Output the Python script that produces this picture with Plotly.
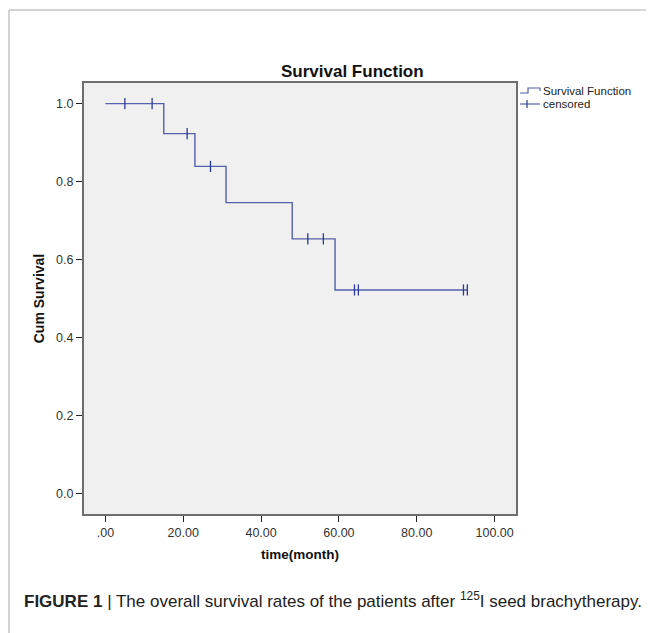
import plotly.graph_objects as go

# ---- data ----
event_times = [15, 23, 31, 48, 59]
event_surv = [0.923, 0.839, 0.746, 0.653, 0.522]
start_time = 0
end_time = 93
censored_times = [5, 12, 21, 27, 52, 56, 64, 65, 92, 93]
censored_surv = [1.0, 1.0, 0.923, 0.839, 0.653, 0.653, 0.522, 0.522, 0.522, 0.522]
x_tick_vals = [0, 20, 40, 60, 80, 100]
x_tick_text = [".00", "20.00", "40.00", "60.00", "80.00", "100.00"]
y_tick_vals = [0.0, 0.2, 0.4, 0.6, 0.8, 1.0]
y_tick_text = ["0.0", "0.2", "0.4", "0.6", "0.8", "1.0"]

OFF = 8                      # page body margin
W, H = 654 - OFF, 633 - OFF  # figure size so the page fits the window
# plot area in screen pixels
SL, SR, ST, SB = 84, 516, 83, 514
L, R, T, B = SL - OFF, SR - OFF, ST - OFF, SB - OFF

def px(xs):
    return ((xs - OFF) - L) / (R - L)

def py(ys):
    return (B - (ys - OFF)) / (B - T)

step_x = [start_time] + event_times + [end_time]
step_y = [1.0] + event_surv + [event_surv[-1]]

LINE = "#5460AA"
MARK = "#2B3A96"

fig = go.Figure()
fig.add_trace(go.Scatter(x=step_x, y=step_y, mode="lines", line_shape="hv",
                         line=dict(color=LINE, width=1.4), name="Survival Function",
                         showlegend=False, hoverinfo="skip"))
fig.add_trace(go.Scatter(x=censored_times, y=censored_surv, mode="markers",
                         marker=dict(symbol="line-ns", size=8, line=dict(color=MARK, width=1.3)),
                         name="censored", showlegend=False))

font_main = "Arial, Liberation Sans, sans-serif"

fig.update_layout(
    width=W, height=H,
    margin=dict(l=L, r=W - R, t=T, b=H - B),
    paper_bgcolor="white", plot_bgcolor="#F0F0F0",
    font=dict(family=font_main, size=11, color="#333333"),
    xaxis=dict(range=[-5.5, 105.5], tickvals=x_tick_vals, ticktext=x_tick_text,
               ticks="outside", ticklen=6, tickwidth=1.2, tickcolor="#222222",
               tickfont=dict(size=12.5, color="#333333"),
               showgrid=False, zeroline=False, showline=True, mirror=True,
               linecolor="#6E6E6E", linewidth=2,
               title=dict(text="<b>time(month)</b>", font=dict(size=13.5, color="#111111"), standoff=11)),
    yaxis=dict(range=[-0.053, 1.053], tickvals=y_tick_vals, ticktext=y_tick_text,
               ticks="outside", ticklen=6, tickwidth=1.2, tickcolor="#222222",
               tickfont=dict(size=12.5, color="#333333"),
               showgrid=False, zeroline=False, showline=True, mirror=True,
               linecolor="#6E6E6E", linewidth=2,
               title=dict(text="<b>Cum Survival</b>", font=dict(size=14, color="#111111"), standoff=8)),
    showlegend=False,
)

# chart title
fig.add_annotation(text="<b>Survival Function</b>", xref="paper", yref="paper",
                   x=px(352), y=py(71), xanchor="center", yanchor="middle", showarrow=False,
                   font=dict(size=17, color="#111111", family=font_main))

# legend (drawn)
fig.add_shape(type="path", xref="paper", yref="paper",
              path=f"M {px(520)},{py(93)} L {px(528)},{py(93)} L {px(528)},{py(88)} L {px(540)},{py(88)} L {px(540)},{py(91)}",
              line=dict(color=LINE, width=1.2))
fig.add_shape(type="line", xref="paper", yref="paper", x0=px(520), x1=px(540), y0=py(104), y1=py(104),
              line=dict(color=LINE, width=1.2))
fig.add_shape(type="line", xref="paper", yref="paper", x0=px(527), x1=px(527), y0=py(100), y1=py(108),
              line=dict(color=MARK, width=1.2))
fig.add_annotation(text="Survival Function", xref="paper", yref="paper", x=px(541), y=py(91),
                   xanchor="left", yanchor="middle", showarrow=False,
                   font=dict(size=11.5, color="#222222", family=font_main))
fig.add_annotation(text="censored", xref="paper", yref="paper", x=px(541), y=py(104),
                   xanchor="left", yanchor="middle", showarrow=False,
                   font=dict(size=11.5, color="#222222", family=font_main))

# panel frame (top and left gray rules)
fig.add_shape(type="path", xref="paper", yref="paper",
              path=f"M {px(9)},{py(633)} L {px(9)},{py(10)} L {px(654)},{py(10)}",
              line=dict(color="#AAAAAA", width=1))

# caption
fig.add_annotation(
    text="<b>FIGURE 1</b> | The overall survival rates of the patients after <sup>125</sup>I seed brachytherapy.",
    xref="paper", yref="paper", x=px(22), y=py(600), xanchor="left", yanchor="middle",
    showarrow=False, font=dict(size=17, color="#222222", family=font_main))

fig.write_html("out.html")
